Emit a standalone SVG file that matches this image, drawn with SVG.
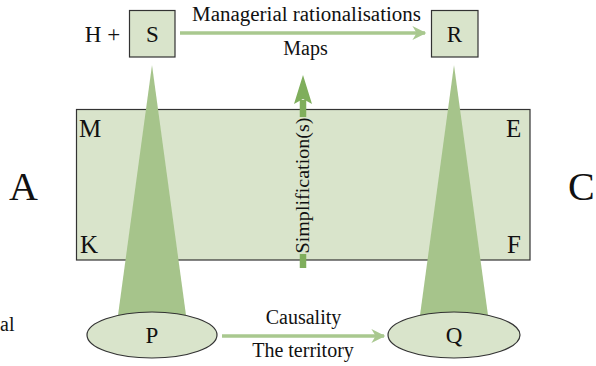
<svg xmlns="http://www.w3.org/2000/svg" width="596" height="366" viewBox="0 0 596 366">
  <defs>
    <style>
      .node { fill: #d9e4cb; stroke: #333; stroke-width: 1.2; }
      .cone { fill: #a6c48b; }
      .link { stroke: #a9c88f; stroke-width: 3.5; fill: none; }
    </style>
    <marker id="head" viewBox="0 0 10 10" refX="9" refY="5" markerWidth="4.5" markerHeight="4" orient="auto" markerUnits="strokeWidth">
      <path d="M0,0 L10,5 L0,10 L3,5 Z" fill="#a9c88f"/>
    </marker>
  </defs>

  <rect width="596" height="366" fill="#fff"/>

  <g font-family="Liberation Serif, DejaVu Serif, serif" fill="#111">
    <!-- the territory/map field -->
    <g id="field">
      <rect class="node" x="76.5" y="109.5" width="453.5" height="150.5"/>
      <text x="79" y="137" font-size="25">M</text>
      <text x="506" y="137" font-size="25">E</text>
      <text x="80" y="253" font-size="25">K</text>
      <text x="507" y="253" font-size="25">F</text>
    </g>

    <!-- projection cones -->
    <g id="cones">
      <polygon class="cone" points="152,65 116,330 188,330"/>
      <polygon class="cone" points="454,65 418,330 490,330"/>
    </g>

    <!-- vertical simplification arrow -->
    <g id="simplification">
      <path d="M303,268 L303,100" stroke="#7fae5c" stroke-width="6.5"/>
      <path d="M303,75 L312,104 L303,99 L294,104 Z" fill="#7fae5c"/>
      <rect x="294" y="117" width="18" height="137" fill="#d9e4cb"/>
      <text transform="translate(309,185.5) rotate(-90)" text-anchor="middle" font-size="18" textLength="136" lengthAdjust="spacingAndGlyphs">Simplification(s)</text>
    </g>

    <g id="node-S">
      <rect class="node" x="129.5" y="10.5" width="45.5" height="46.5"/>
      <text x="152.3" y="42" font-size="23" text-anchor="middle">S</text>
      <text x="102.5" y="42" font-size="23" text-anchor="middle">H +</text>
    </g>

    <g id="node-R">
      <rect class="node" x="431.5" y="10.5" width="46.5" height="46.5"/>
      <text x="454.5" y="42" font-size="23" text-anchor="middle">R</text>
    </g>

    <g id="node-P">
      <ellipse class="node" cx="152" cy="335" rx="65" ry="23"/>
      <text x="152" y="343" font-size="23" text-anchor="middle">P</text>
    </g>

    <g id="node-Q">
      <ellipse class="node" cx="454" cy="335" rx="66" ry="23"/>
      <text x="454" y="343" font-size="23" text-anchor="middle">Q</text>
    </g>

    <!-- connectors -->
    <g id="connectors">
      <line class="link" x1="180" y1="33" x2="425" y2="33" marker-end="url(#head)"/>
      <line class="link" x1="222" y1="336" x2="384" y2="336" marker-end="url(#head)"/>
    </g>

    <!-- edge labels and side letters -->
    <g id="labels">
      <text x="306.5" y="21" font-size="20" text-anchor="middle" textLength="229" lengthAdjust="spacingAndGlyphs">Managerial rationalisations</text>
      <text x="305.5" y="55" font-size="20" text-anchor="middle">Maps</text>
      <text x="303.5" y="324" font-size="20" text-anchor="middle">Causality</text>
      <text x="303" y="357" font-size="20" text-anchor="middle">The territory</text>
      <text x="9" y="200" font-size="40">A</text>
      <text x="568" y="200" font-size="40">C</text>
      <text x="0" y="331" font-size="20">al</text>
    </g>
  </g>
</svg>
